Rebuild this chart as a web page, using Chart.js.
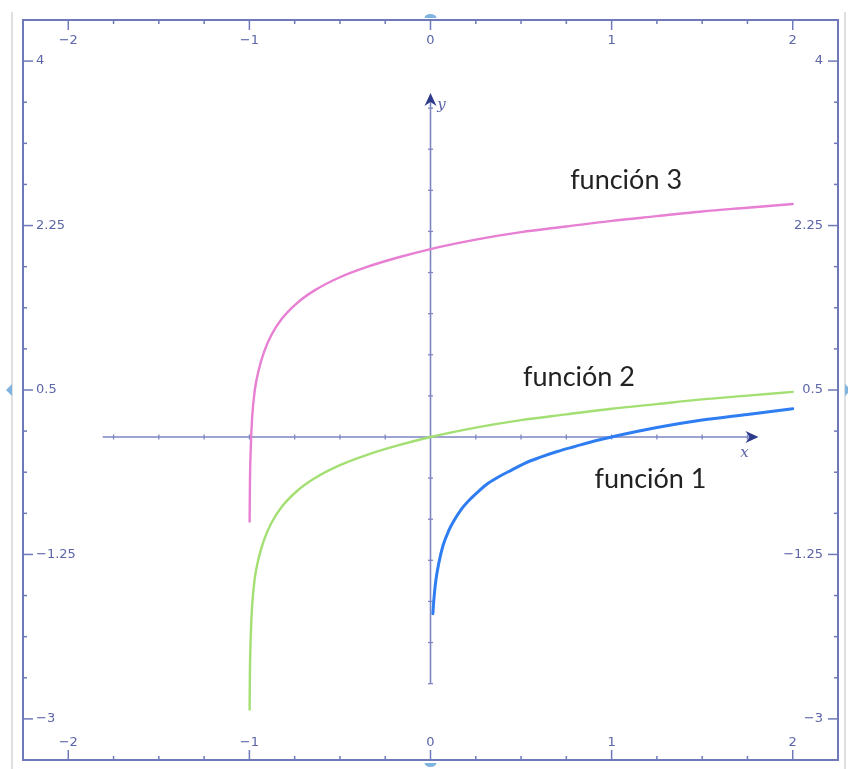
<!DOCTYPE html>
<html>
<head>
<meta charset="utf-8">
<title>función 1, 2 y 3</title>
<style>
*{padding:0;margin:0;box-sizing:border-box}
html,body{width:848px;height:769px;background:#ffffff;overflow:hidden}
.wrapper{position:absolute;left:0;top:0;width:848px;height:769px}
</style>
</head>
<body>
<div class="wrapper"><canvas id="myChart" width="848" height="769"></canvas></div>
<script src="https://cdn.jsdelivr.net/npm/chart.js"></script>
<script>
// frame tick labels
const xTicks = [-2, -1, 0, 1, 2];
const xTickLabels = ['−2', '−1', '0', '1', '2'];
const yTicks = [4, 2.25, 0.5, -1.25, -3];
const yTickLabels = ['4', '2.25', '0.5', '−1.25', '−3'];

// función 1 (blue)
const f1X = [0.013, 0.02, 0.03, 0.045, 0.07, 0.1, 0.13, 0.17, 0.22, 0.27, 0.32, 0.38, 0.45, 0.52, 0.6, 0.7, 0.8, 0.9, 1.0, 1.25, 1.5, 1.75, 2.0];
const f1Y = [-1.88, -1.70, -1.52, -1.35, -1.15, -1.0, -0.89, -0.77, -0.66, -0.57, -0.49, -0.42, -0.35, -0.28, -0.22, -0.155, -0.10, -0.046, 0.0, 0.10, 0.18, 0.24, 0.30];

// función 2 (green)
const f2X = [-0.9987, -0.997, -0.993, -0.985, -0.97, -0.95, -0.92, -0.88, -0.82, -0.74, -0.64, -0.5, -0.35, -0.18, 0, 0.25, 0.5, 0.75, 1.0, 1.25, 1.5, 1.75, 2.0];
const f2Y = [-2.9, -2.5, -2.15, -1.8, -1.5, -1.3, -1.1, -0.92, -0.74, -0.58, -0.44, -0.3, -0.19, -0.09, 0, 0.1, 0.18, 0.24, 0.3, 0.35, 0.4, 0.44, 0.48];

// función 3 (pink)
const f3X = [-0.9987, -0.997, -0.993, -0.985, -0.97, -0.95, -0.92, -0.88, -0.82, -0.74, -0.64, -0.5, -0.35, -0.18, 0, 0.25, 0.5, 0.75, 1.0, 1.25, 1.5, 1.75, 2.0];
const f3Y = [-0.9, -0.5, -0.15, 0.2, 0.5, 0.7, 0.9, 1.08, 1.26, 1.42, 1.56, 1.7, 1.81, 1.91, 2.0, 2.1, 2.18, 2.24, 2.3, 2.35, 2.4, 2.44, 2.48];

const seriesNames = ['función 1', 'función 2', 'función 3'];

const toPoints = (xs, ys) => xs.map((v, i) => ({ x: v, y: ys[i] }));

const axisColor = '#6f79b9';
const labelColor = '#5b65a8';

const drawLine = (ctx, x1, y1, x2, y2) => {
  ctx.beginPath();
  ctx.moveTo(x1, y1);
  ctx.lineTo(x2, y2);
  ctx.stroke();
};

const arrowHead = (ctx, x, y, dir) => {
  // dir: 'right' or 'up'
  ctx.save();
  ctx.translate(x, y);
  if (dir == 'up') ctx.rotate(-Math.PI / 2);
  ctx.beginPath();
  ctx.moveTo(0, 0);
  ctx.lineTo(-13, -6);
  ctx.lineTo(-9, 0);
  ctx.lineTo(-13, 6);
  ctx.closePath();
  ctx.fillStyle = '#2e3a8c';
  ctx.fill();
  ctx.restore();
};

const frame = {
  id: 'frame',
  beforeDatasetsDraw(chart) {
    const { ctx, chartArea: a, scales: { x, y } } = chart;
    ctx.save();

    // picture border and handles
    ctx.strokeStyle = '#d4d4d4';
    ctx.lineWidth = 1.5;
    drawLine(ctx, a.left - 11, a.top - 8, a.left - 11, chart.height);
    drawLine(ctx, a.right + 7, a.top - 8, a.right + 7, chart.height);
    const midX = (a.left + a.right) / 2;
    const midY = (a.top + a.bottom) / 2;
    ctx.fillStyle = '#7fb4e0';
    ctx.beginPath();
    ctx.ellipse(midX, a.top - 2, 6, 4, 0, Math.PI, 2 * Math.PI);
    ctx.fill();
    ctx.beginPath();
    ctx.ellipse(midX, a.bottom + 3, 6, 4, 0, 0, Math.PI);
    ctx.fill();
    ctx.beginPath();
    ctx.moveTo(a.left - 17, midY);
    ctx.lineTo(a.left - 11, midY - 6);
    ctx.lineTo(a.left - 11, midY + 6);
    ctx.closePath();
    ctx.fill();
    ctx.beginPath();
    ctx.moveTo(a.right + 13, midY);
    ctx.lineTo(a.right + 7, midY - 6);
    ctx.lineTo(a.right + 7, midY + 6);
    ctx.closePath();
    ctx.fill();

    // frame
    ctx.strokeStyle = axisColor;
    ctx.lineWidth = 2;
    ctx.strokeRect(a.left, a.top, a.right - a.left, a.bottom - a.top);

    // frame ticks, x every 0.25
    ctx.lineWidth = 1.5;
    for (let i = 0; i <= 16; i++) {
      const v = -2 + i * 0.25;
      const px = x.getPixelForValue(v);
      const len = i % 4 == 0 ? 10 : 4;
      drawLine(ctx, px, a.top, px, a.top + len);
      drawLine(ctx, px, a.bottom, px, a.bottom - len);
    }
    // frame ticks, y every 0.4375
    for (let i = 0; i <= 16; i++) {
      const v = -3 + i * 0.4375;
      const py = y.getPixelForValue(v);
      const len = i % 4 == 0 ? 10 : 4;
      drawLine(ctx, a.left, py, a.left + len, py);
      drawLine(ctx, a.right, py, a.right - len, py);
    }

    ctx.fillStyle = labelColor;
    ctx.font = '13px "DejaVu Sans"';
    ctx.textBaseline = 'middle';
    ctx.textAlign = 'center';
    xTicks.forEach((v, i) => {
      const px = x.getPixelForValue(v);
      ctx.fillText(xTickLabels[i], px, a.top + 21);
      ctx.fillText(xTickLabels[i], px, a.bottom - 17);
    });
    yTicks.forEach((v, i) => {
      const py = y.getPixelForValue(v);
      ctx.textAlign = 'left';
      ctx.fillText(yTickLabels[i], a.left + 13, py);
      ctx.textAlign = 'right';
      ctx.fillText(yTickLabels[i], a.right - 15, py);
    });

    // inner axes
    const x0 = x.getPixelForValue(0);
    const y0 = y.getPixelForValue(0);
    const xl = x.getPixelForValue(-1.81);
    const xr = x.getPixelForValue(1.8);
    const yb = y.getPixelForValue(-2.63);
    const yt = y.getPixelForValue(3.66);
    ctx.strokeStyle = '#7e86c2';
    ctx.lineWidth = 1.6;
    drawLine(ctx, xl, y0, xr - 6, y0);
    drawLine(ctx, x0, yb, x0, yt + 6);
    ctx.lineWidth = 1.3;
    for (let i = -7; i <= 7; i++) {
      if (i == 0) continue;
      const px = x.getPixelForValue(i * 0.25);
      drawLine(ctx, px, y0 - 2.5, px, y0 + 2.5);
    }
    for (let i = -6; i <= 8; i++) {
      if (i == 0) continue;
      const py = y.getPixelForValue(i * 0.4375);
      drawLine(ctx, x0 - 2.5, py, x0 + 2.5, py);
    }
    arrowHead(ctx, xr + 2, y0, 'right');
    arrowHead(ctx, x0, yt, 'up');

    ctx.fillStyle = '#5a62a8';
    ctx.font = 'italic 15px "DejaVu Serif"';
    ctx.textAlign = 'center';
    ctx.fillText('x', xr - 12, y0 + 16);
    ctx.fillText('y', x0 + 11, yt + 12);

    ctx.restore();
  },
  afterDatasetsDraw(chart, args, opts) {
    const { ctx, scales: { x, y } } = chart;
    ctx.save();
    ctx.fillStyle = '#222222';
    ctx.font = '27px Lato';
    ctx.textAlign = 'center';
    ctx.textBaseline = 'middle';
    opts.names.forEach((n) => {
      ctx.fillText(n.text, x.getPixelForValue(n.x), y.getPixelForValue(n.y));
    });
    ctx.restore();
  },
};

const ctx = document.getElementById('myChart').getContext('2d');
const myChart = new Chart(ctx, {
  type: 'scatter',
  data: {
    datasets: [
      { label: seriesNames[0], data: toPoints(f1X, f1Y), borderColor: '#2f7df2', borderWidth: 3 },
      { label: seriesNames[1], data: toPoints(f2X, f2Y), borderColor: '#a3df72', borderWidth: 2.4 },
      { label: seriesNames[2], data: toPoints(f3X, f3Y), borderColor: '#e77fd3', borderWidth: 2.4 },
    ].map(d => Object.assign(d, {
      showLine: true,
      pointRadius: 0,
      cubicInterpolationMode: 'monotone',
      borderCapStyle: 'round',
    })),
  },
  options: {
    responsive: false,
    animation: false,
    layout: { padding: { left: 23, right: 10, top: 20, bottom: 9 } },
    scales: {
      x: { type: 'linear', min: -2.25, max: 2.25, display: false },
      y: { type: 'linear', min: -3.4375, max: 4.4375, display: false },
    },
    plugins: {
      legend: { display: false },
      tooltip: { enabled: false },
      frame: {
        names: [
          { text: seriesNames[2], x: 1.08, y: 2.73 },
          { text: seriesNames[1], x: 0.82, y: 0.64 },
          { text: seriesNames[0], x: 1.215, y: -0.45 },
        ],
      },
    },
  },
  plugins: [frame],
});
</script>
</body>
</html>
